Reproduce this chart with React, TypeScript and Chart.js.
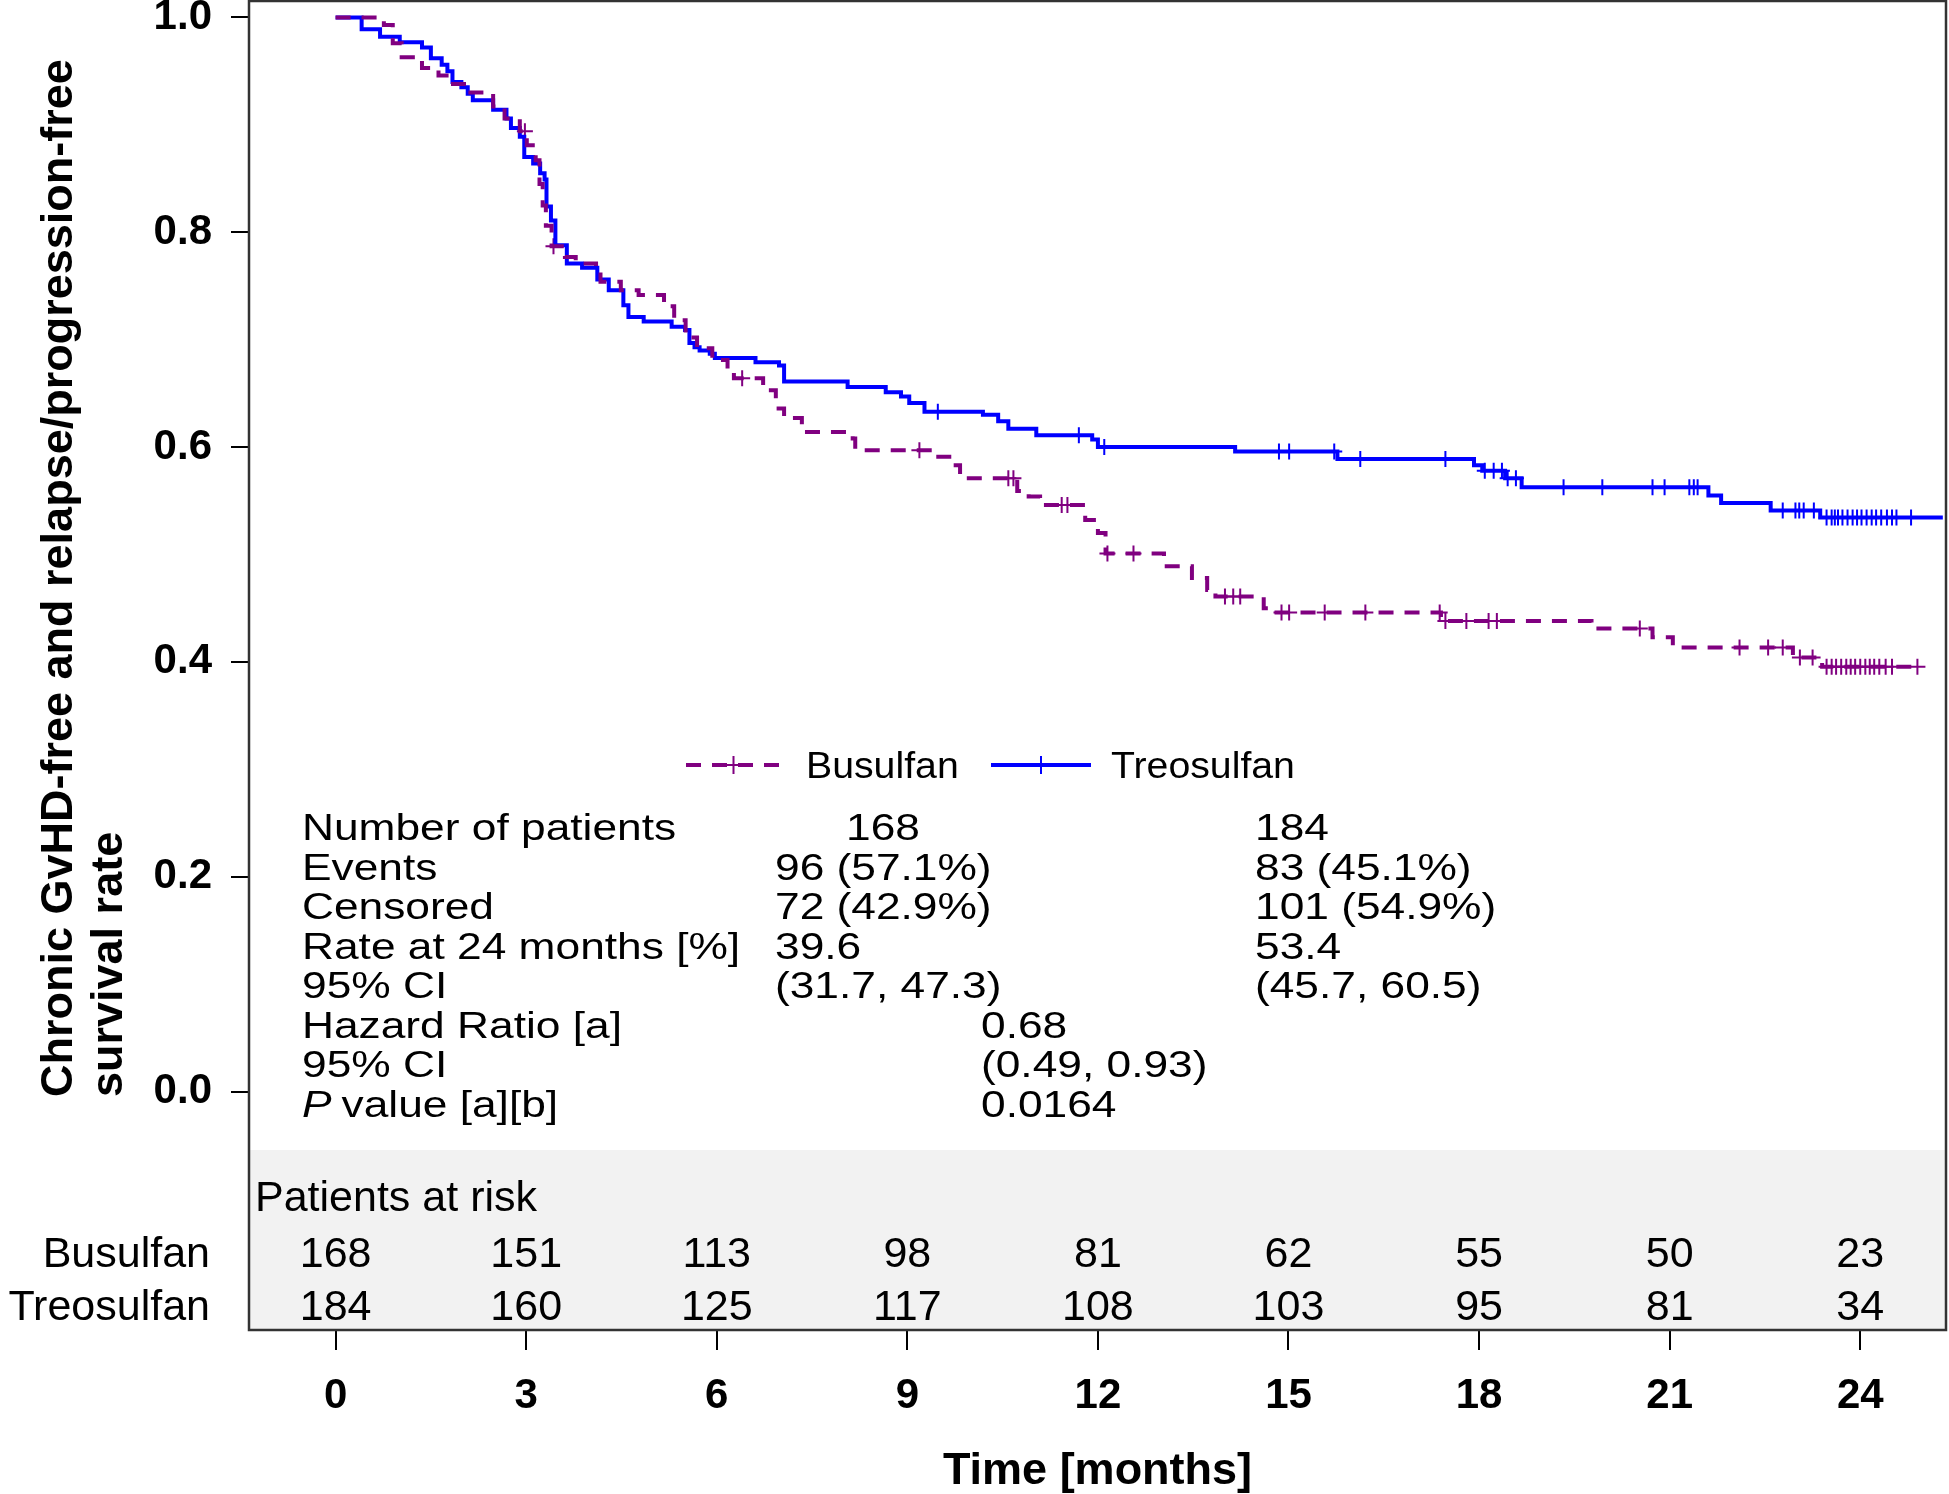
import React, { useEffect, useRef } from 'react';
import { Chart, registerables } from 'chart.js';

Chart.register(...registerables);

// Kaplan-Meier steps (time in months, survival after each event)
const busulfanTimes = [0, 0.76, 0.9, 1.04, 1.36, 1.62, 1.8, 2.06, 2.48, 2.66, 2.9, 3.01, 3.15, 3.21, 3.26, 3.31, 3.4, 3.61, 3.78, 4.1, 4.17, 4.49, 4.77, 5.17, 5.33, 5.51, 5.69, 5.93, 6.17, 6.27, 6.73, 6.93, 7.06, 7.34, 8.14, 8.18, 9.39, 9.71, 9.83, 10.73, 10.91, 11.09, 11.8, 12.0, 12.12, 13.04, 13.48, 13.72, 13.85, 14.61, 14.68, 17.4, 19.77, 20.73, 21.05, 22.94, 23.4, 24.9];
const busulfanSurvival = [1, 0.993, 0.976, 0.963, 0.953, 0.946, 0.938, 0.93, 0.917, 0.906, 0.894, 0.881, 0.867, 0.845, 0.825, 0.806, 0.787, 0.777, 0.771, 0.766, 0.754, 0.746, 0.7415, 0.731, 0.718, 0.702, 0.692, 0.681, 0.669, 0.664, 0.653, 0.636, 0.627, 0.614, 0.608, 0.597, 0.591, 0.583, 0.571, 0.559, 0.554, 0.546, 0.532, 0.52, 0.501, 0.489, 0.478, 0.467, 0.461, 0.45, 0.446, 0.438, 0.431, 0.423, 0.4135, 0.404, 0.3955, 0.3955];
const busulfanCensored = [2.98, 3.43, 6.4, 9.19, 10.59, 10.67, 11.43, 11.52, 12.15, 12.56, 14.0, 14.13, 14.24, 14.89, 15.01, 15.57, 16.21, 17.38, 17.47, 17.8, 18.15, 18.28, 20.53, 22.1, 22.55, 22.78, 23.05, 23.25, 23.47, 23.55, 23.62, 23.7, 23.78, 23.85, 23.92, 24.0, 24.08, 24.15, 24.22, 24.3, 24.4, 24.5, 24.9];

const treosulfanTimes = [0, 0.41, 0.7, 1.01, 1.36, 1.5, 1.67, 1.76, 1.84, 1.98, 2.08, 2.16, 2.48, 2.69, 2.76, 2.9, 2.97, 3.11, 3.22, 3.29, 3.32, 3.39, 3.46, 3.64, 3.88, 4.12, 4.3, 4.53, 4.61, 4.85, 5.29, 5.5, 5.57, 5.65, 5.73, 5.89, 5.97, 6.61, 6.98, 7.06, 8.06, 8.66, 8.9, 9.03, 9.27, 10.19, 10.43, 10.59, 11.03, 11.91, 12.0, 14.16, 15.77, 17.92, 18.05, 18.41, 18.67, 21.61, 21.81, 22.59, 23.37, 25.3];
const treosulfanSurvival = [1, 0.989, 0.982, 0.977, 0.972, 0.962, 0.956, 0.95, 0.94, 0.935, 0.929, 0.923, 0.914, 0.906, 0.897, 0.889, 0.87, 0.864, 0.855, 0.849, 0.824, 0.811, 0.788, 0.771, 0.767, 0.756, 0.746, 0.732, 0.721, 0.717, 0.712, 0.709, 0.697, 0.693, 0.69, 0.687, 0.683, 0.679, 0.676, 0.661, 0.656, 0.651, 0.647, 0.641, 0.633, 0.63, 0.624, 0.617, 0.611, 0.607, 0.6, 0.596, 0.589, 0.583, 0.578, 0.571, 0.5625, 0.555, 0.548, 0.541, 0.5345, 0.5345];
const treosulfanCensored = [9.48, 11.7, 12.1, 14.85, 15.01, 15.72, 16.13, 17.47, 18.09, 18.23, 18.36, 18.45, 18.58, 19.33, 19.94, 20.73, 20.92, 21.31, 21.38, 21.44, 22.78, 22.98, 23.04, 23.11, 23.27, 23.47, 23.55, 23.6, 23.65, 23.72, 23.8, 23.88, 23.95, 24.02, 24.1, 24.18, 24.25, 24.33, 24.42, 24.5, 24.57, 24.8];

const xTicks = [0, 3, 6, 9, 12, 15, 18, 21, 24];
const yTicks = [0, 0.2, 0.4, 0.6, 0.8, 1.0];
const busulfanAtRisk = [168, 151, 113, 98, 81, 62, 55, 50, 23];
const treosulfanAtRisk = [184, 160, 125, 117, 108, 103, 95, 81, 34];

const statLabels = ['Number of patients', 'Events', 'Censored', 'Rate at 24 months [%]', '95% CI', 'Hazard Ratio [a]', '95% CI'];
const busulfanStats = ['168', '96 (57.1%)', '72 (42.9%)', '39.6', '(31.7, 47.3)'];
const treosulfanStats = ['184', '83 (45.1%)', '101 (54.9%)', '53.4', '(45.7, 60.5)'];
const comparisonStats = ['0.68', '(0.49, 0.93)', '0.0164'];

const PURPLE = '#800080';
const BLUE = '#0000ff';
const FONT = "'Liberation Sans', Arial, sans-serif";

const survivalAt = (times: number[], surv: number[], t: number) => {
  let s = surv[0];
  for (let i = 0; i < times.length; i++) if (times[i] <= t) s = surv[i];
  return s;
};

const text = (ctx: CanvasRenderingContext2D, s: string, x: number, y: number, font: string, align: CanvasTextAlign = 'left', sx = 1) => {
  ctx.save();
  ctx.font = font;
  ctx.fillStyle = '#000';
  ctx.textAlign = align;
  ctx.textBaseline = 'alphabetic';
  ctx.translate(x, y);
  ctx.scale(sx, 1);
  ctx.fillText(s, 0, 0);
  ctx.restore();
};

const noPadding = (s: any) => {
  s.paddingTop = 0;
  s.paddingBottom = 0;
  s.paddingLeft = 0;
  s.paddingRight = 0;
};

const decorations = {
  id: 'decorations',
  beforeDraw(chart: any) {
    const { ctx, width, height } = chart;
    ctx.save();
    ctx.fillStyle = '#fff';
    ctx.fillRect(0, 0, width, height);
    ctx.restore();
  },
  beforeDatasetsDraw(chart: any) {
    const { ctx, chartArea: a } = chart;
    ctx.save();
    ctx.fillStyle = '#f2f2f2';
    ctx.fillRect(a.left, a.bottom - 180, a.right - a.left, 180);
    ctx.restore();
  },
  afterDatasetsDraw(chart: any) {
    const { ctx, chartArea: a } = chart;
    const x = chart.scales.x;

    // frame
    ctx.save();
    ctx.strokeStyle = '#333';
    ctx.lineWidth = 2.5;
    ctx.strokeRect(a.left, a.top, a.right - a.left, a.bottom - a.top);
    ctx.restore();

    // legend
    const legendY = 765;
    const legendItem = (x0: number, x1: number, color: string, dash: number[], label: string, tx: number) => {
      ctx.save();
      ctx.strokeStyle = color;
      ctx.lineWidth = 4;
      ctx.setLineDash(dash);
      ctx.beginPath();
      ctx.moveTo(x0, legendY);
      ctx.lineTo(x1, legendY);
      ctx.stroke();
      ctx.setLineDash([]);
      ctx.lineWidth = 2;
      const cx = (x0 + x1) / 2;
      ctx.beginPath();
      ctx.moveTo(cx - 9, legendY);
      ctx.lineTo(cx + 9, legendY);
      ctx.moveTo(cx, legendY - 9);
      ctx.lineTo(cx, legendY + 9);
      ctx.stroke();
      ctx.restore();
      text(ctx, label, tx, legendY + 13, `36px ${FONT}`, 'left', 1.09);
    };
    legendItem(686, 781, PURPLE, [15, 11], 'Busulfan', 806);
    legendItem(991, 1091, BLUE, [], 'Treosulfan', 1111);

    // statistics table
    const tf = `36px ${FONT}`;
    const itf = `italic 36px ${FONT}`;
    const sx = 1.23;
    const row = (i: number) => 840 + i * 39.5;
    statLabels.forEach((s, i) => text(ctx, s, 302, row(i), tf, 'left', sx));
    ctx.save();
    ctx.font = itf;
    const pw = ctx.measureText('P').width * sx;
    ctx.restore();
    text(ctx, 'P', 302, row(7), itf, 'left', sx);
    text(ctx, 'value [a][b]', 302 + pw + 10, row(7), tf, 'left', sx);
    busulfanStats.forEach((s, i) => text(ctx, s, i === 0 ? 846 : 775, row(i), tf, 'left', sx));
    treosulfanStats.forEach((s, i) => text(ctx, s, 1255, row(i), tf, 'left', sx));
    comparisonStats.forEach((s, i) => text(ctx, s, 981, row(5 + i), tf, 'left', sx));

    // patients at risk
    const rf = `43px ${FONT}`;
    text(ctx, 'Patients at risk', 255, 1211, rf);
    text(ctx, 'Busulfan', 210, 1267, rf, 'right');
    text(ctx, 'Treosulfan', 210, 1320, rf, 'right');
    xTicks.forEach((t, i) => {
      const px = x.getPixelForValue(t);
      text(ctx, String(busulfanAtRisk[i]), px, 1267, rf, 'center');
      text(ctx, String(treosulfanAtRisk[i]), px, 1320, rf, 'center');
    });

    // axis titles
    const bf = `bold 45px ${FONT}`;
    text(ctx, 'Time [months]', (a.left + a.right) / 2, 1484, bf, 'center');
    ctx.save();
    ctx.font = bf;
    ctx.fillStyle = '#000';
    ctx.textAlign = 'left';
    ctx.textBaseline = 'alphabetic';
    ctx.translate(72, 1097);
    ctx.rotate(-Math.PI / 2);
    ctx.fillText('Chronic GvHD-free and relapse/progression-free', 0, 0);
    ctx.fillText('survival rate', 0, 50);
    ctx.restore();
  },
};

const App: React.FC = () => {
  const canvasRef = useRef<HTMLCanvasElement | null>(null);

  useEffect(() => {
    if (!canvasRef.current) return;
    Chart.defaults.font.family = FONT;
    Chart.defaults.color = '#000';

    const steps = (times: number[], surv: number[]) => times.map((t, i) => ({ x: t, y: surv[i] }));
    const censors = (cens: number[], times: number[], surv: number[]) =>
      cens.map((t) => ({ x: t, y: survivalAt(times, surv, t) }));

    const chart = new Chart(canvasRef.current, {
      type: 'line',
      data: {
        datasets: [
          {
            label: 'Busulfan',
            data: steps(busulfanTimes, busulfanSurvival),
            stepped: 'before',
            borderColor: PURPLE,
            borderWidth: 4,
            borderDash: [15, 11],
            pointRadius: 0,
            fill: false,
          },
          {
            label: 'Treosulfan',
            data: steps(treosulfanTimes, treosulfanSurvival),
            stepped: 'before',
            borderColor: BLUE,
            borderWidth: 4,
            pointRadius: 0,
            fill: false,
          },
          {
            label: 'Busulfan censored',
            data: censors(busulfanCensored, busulfanTimes, busulfanSurvival),
            showLine: false,
            pointStyle: 'cross',
            pointRadius: 8,
            pointBorderWidth: 2,
            pointBorderColor: PURPLE,
            borderColor: PURPLE,
          },
          {
            label: 'Treosulfan censored',
            data: censors(treosulfanCensored, treosulfanTimes, treosulfanSurvival),
            showLine: false,
            pointStyle: 'cross',
            pointRadius: 8,
            pointBorderWidth: 2,
            pointBorderColor: BLUE,
            borderColor: BLUE,
          },
        ],
      },
      options: {
        animation: false,
        responsive: true,
        maintainAspectRatio: false,
        devicePixelRatio: 1,
        layout: { autoPadding: false, padding: { top: 1, right: 3, left: 0, bottom: 0 } },
        plugins: { legend: { display: false }, tooltip: { enabled: false } },
        scales: {
          x: {
            type: 'linear',
            min: -1.363,
            max: 25.35,
            afterBuildTicks: (s: any) => {
              s.ticks = xTicks.map((v) => ({ value: v }));
            },
            afterFit: (s: any) => {
              s.height = 164;
              noPadding(s);
            },
            grid: { drawOnChartArea: false, tickLength: 20, color: '#000', lineWidth: 2 },
            border: { display: false },
            ticks: { font: { size: 42, weight: 'bold' }, color: '#000', padding: 21, maxRotation: 0 },
          },
          y: {
            type: 'linear',
            min: -0.222,
            max: 1.0153,
            afterBuildTicks: (s: any) => {
              s.ticks = yTicks.map((v) => ({ value: v }));
            },
            afterFit: (s: any) => {
              s.width = 249;
              noPadding(s);
            },
            grid: { drawOnChartArea: false, tickLength: 18, color: '#000', lineWidth: 2 },
            border: { display: false },
            ticks: {
              font: { size: 42, weight: 'bold' },
              color: '#000',
              padding: 19,
              callback: (v: any) => Number(v).toFixed(1),
            },
          },
        },
      },
      plugins: [decorations],
    } as any);

    return () => {
      chart.destroy();
    };
  }, []);

  return (
    <div style={{ position: 'absolute', left: 0, top: 0, width: 1949, height: 1494, background: '#fff' }}>
      <canvas ref={canvasRef} />
    </div>
  );
};

export default App;
